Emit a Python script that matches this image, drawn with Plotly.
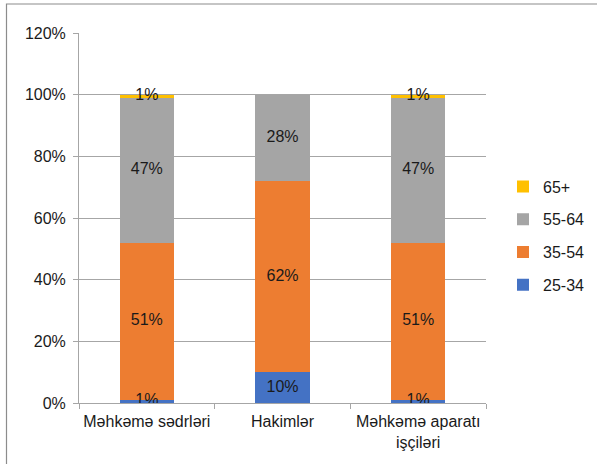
import plotly.graph_objects as go

categories = ["Məhkəmə sədrləri", "Hakimlər", "Məhkəmə aparatı<br>işçiləri"]
series_names = ["25-34", "35-54", "55-64", "65+"]
s_25_34 = [1, 10, 1]
s_35_54 = [51, 62, 51]
s_55_64 = [47, 28, 47]
s_65 = [1, 0, 1]
y_ticks = [0, 20, 40, 60, 80, 100, 120]
y_tick_labels = [f"{v}%" for v in y_ticks]

colors = ["#4472C4", "#ED7D31", "#A5A5A5", "#FFC000"]
series = [s_25_34, s_35_54, s_55_64, s_65]
FONT = "Liberation Sans, Arial, sans-serif"

fig = go.Figure()
for i, (name, vals) in enumerate(zip(series_names, series)):
    fig.add_trace(go.Bar(
        x=categories, y=vals, name=name, marker_color=colors[i],
        marker_line_width=0, legendgroup=name, legendrank=10 - i,
        textposition="none", hoverinfo="x+y+name",
    ))

# data labels centered in each segment
lx, ly, lt = [], [], []
cum = [0, 0, 0]
for vals in series:
    for j, v in enumerate(vals):
        if v > 0:
            lx.append(categories[j])
            ly.append(cum[j] + v / 2)
            lt.append(f"{v}%")
        cum[j] += v
fig.add_trace(go.Scatter(
    x=lx, y=ly, text=lt, mode="text", showlegend=False,
    textfont=dict(family=FONT, size=16, color="#1a1a1a"), hoverinfo="skip",
))

L, R, T, B = 79, 111, 33, 61
W, H = 597, 464
pw, ph = W - L - R, H - T - B

def px_x(p):
    return (p - L) / pw

def px_y(p):
    return (H - B - p) / ph

fig.update_layout(
    width=W, height=H, barmode="stack", bargap=0.6,
    margin=dict(l=L, r=R, t=T, b=B, pad=0, autoexpand=False),
    paper_bgcolor="white", plot_bgcolor="white",
    font=dict(family=FONT, size=16, color="#1a1a1a"),
    legend=dict(
        x=px_x(503), xanchor="left", y=px_y(236), yanchor="middle",
        traceorder="grouped", tracegroupgap=9,
        font=dict(family=FONT, size=16, color="#1a1a1a"),
        bgcolor="rgba(0,0,0,0)",
    ),
    xaxis=dict(
        showline=True, linecolor="#a6a6a6", linewidth=1,
        ticks="outside", tickson="boundaries", ticklen=5, tickcolor="#a6a6a6",
        showgrid=False, tickfont=dict(size=16), tickangle=0, automargin=False,
        ticklabelstandoff=4,
    ),
    yaxis=dict(
        range=[0, 120], tickmode="array", tickvals=y_ticks, ticktext=y_tick_labels,
        showline=True, linecolor="#a6a6a6", linewidth=1,
        ticks="outside", ticklen=5, tickcolor="#a6a6a6",
        showgrid=True, gridcolor="#a6a6a6", gridwidth=1,
        zeroline=False, tickfont=dict(size=16), automargin=False,
        ticklabelstandoff=4,
    ),
    shapes=[
        dict(type="rect", xref="paper", yref="paper",
             x0=px_x(6.5), x1=px_x(640), y0=px_y(500), y1=px_y(4),
             fillcolor="rgba(0,0,0,0)", layer="above",
             line=dict(color="#8c8c8c", width=1.2)),
    ],
)

fig.write_html(
    "out.html",
    config={"displayModeBar": False},
    post_script="document.body.style.margin='0';document.body.style.overflow='hidden';",
)
